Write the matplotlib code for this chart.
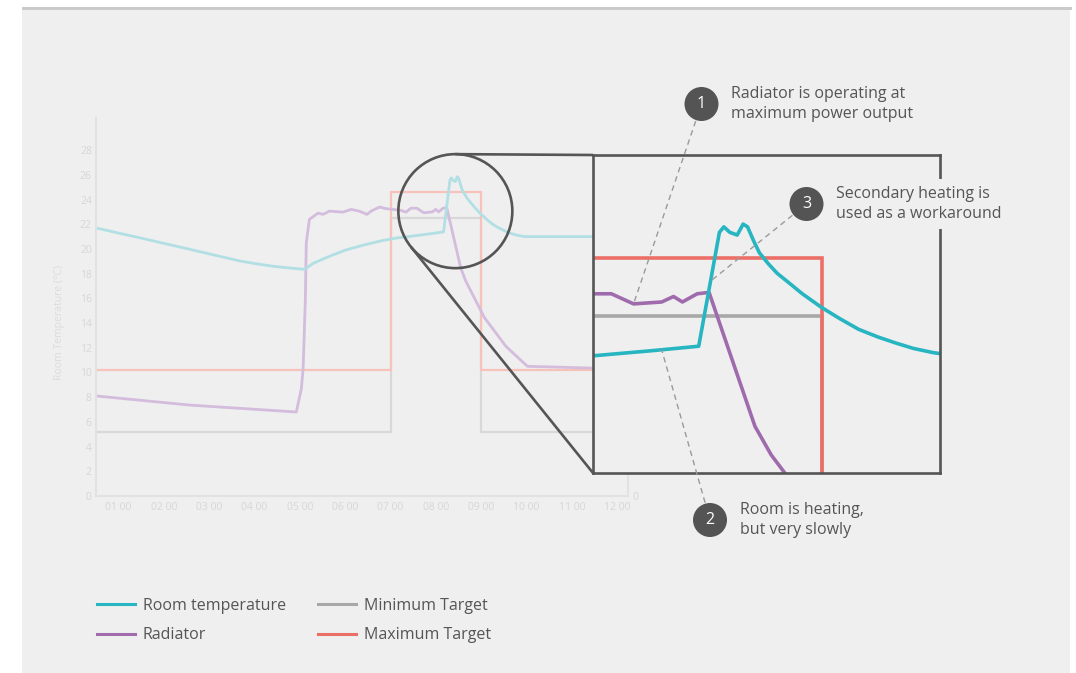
import matplotlib
matplotlib.use("Agg")
import numpy as np
import matplotlib.pyplot as plt
from matplotlib.patches import Circle, Rectangle
from matplotlib.lines import Line2D

plt.rcParams['font.family'] = ['Open Sans', 'DejaVu Sans']

# ---- data -----------------------------------------------------------------
hours_room = [0.5, 1.0, 1.47, 2.0, 2.57, 3.0, 3.67, 4.0, 4.4, 4.7, 5.1, 5.3, 5.65,
              6.0, 6.39, 6.75, 7.12, 7.5, 7.86, 8.17,
              8.31, 8.34, 8.38, 8.43, 8.47, 8.50, 8.54, 8.58, 8.64, 8.70, 8.78,
              8.87, 9.0, 9.12, 9.25, 9.38, 9.5, 9.62, 9.75, 9.86, 9.97, 12.0]
room_temp = [21.7, 21.28, 20.9, 20.45, 19.97, 19.6, 19.03, 18.82, 18.6, 18.48, 18.35,
             18.85, 19.4, 19.9, 20.3, 20.62, 20.88, 21.05, 21.22, 21.38,
             25.55, 25.75, 25.55, 25.45, 25.85, 25.75, 25.25, 24.8, 24.4, 24.05, 23.7,
             23.3, 22.8, 22.4, 22.0, 21.72, 21.5, 21.3, 21.15, 21.06, 21.0, 21.0]

hours_radiator = [0.5, 2.57, 4.92, 5.03, 5.07, 5.12, 5.14, 5.21, 5.40, 5.51, 5.65,
                  5.95, 6.13, 6.31, 6.48, 6.57, 6.68, 6.76, 6.90, 7.05, 7.20, 7.34,
                  7.45, 7.58, 7.73, 7.92, 8.00, 8.06, 8.16, 8.24, 8.55, 8.66, 9.07,
                  9.55, 10.02, 12.0]
radiator_temp = [8.1, 7.36, 6.8, 8.65, 10.27, 15.9, 20.5, 22.4, 22.9, 22.8, 23.06,
                 22.98, 23.2, 23.06, 22.8, 23.06, 23.26, 23.39, 23.26, 23.2, 23.15, 22.98,
                 23.3, 23.3, 22.93, 23.0, 23.2, 23.0, 23.3, 23.35, 18.45, 17.4, 14.45,
                 12.1, 10.5, 10.3]

target_hours = [0.5, 7.0, 9.0, 12.0]
min_target = [5.2, 22.5, 5.2, 5.2]
max_target = [10.2, 24.6, 10.2, 10.2]

tick_hours = list(range(1, 13))
tick_labels = ["01 00", "02 00", "03 00", "04 00", "05 00", "06 00",
               "07 00", "08 00", "09 00", "10 00", "11 00", "12 00"]
y_ticks = list(range(0, 29, 2))

series_labels = ["Room temperature", "Radiator", "Minimum Target", "Maximum Target"]
notes = ["Radiator is operating at\nmaximum power output",
         "Room is heating,\nbut very slowly",
         "Secondary heating is\nused as a workaround"]

# ---- styling --------------------------------------------------------------
BG = '#efefef'
DARK = '#555555'
TEXT = '#555555'
FAINT = '#d6d6d6'
strong = {'room': '#27b5c1', 'rad': '#9f6bad', 'min': '#a8a8a8', 'max': '#ec6f67'}
faded = {'room': '#b2dfe4', 'rad': '#d4bcdd', 'min': '#d8d8d8', 'max': '#f6c2b9'}

W, H = 1076, 673
fig = plt.figure(figsize=(W / 100, H / 100), dpi=100)
fig.patch.set_facecolor('white')


def box(l, t, r, b):
    return [l / W, 1 - b / H, (r - l) / W, (b - t) / H]


# panel background and its top rule
fig.patches.append(Rectangle((22 / W, 0), (1070 - 22) / W, (H - 8) / H,
                             transform=fig.transFigure, facecolor=BG,
                             edgecolor='none', zorder=-10))
fig.patches.append(Rectangle((22 / W, 1 - 9.5 / H), (1072 - 22) / W, 2.5 / H,
                             transform=fig.transFigure, facecolor='#cacaca',
                             edgecolor='none', zorder=-10))


def draw_series(a, col, lw_line, lw_target):
    a.plot(target_hours, min_target, drawstyle='steps-post', color=col['min'],
           lw=lw_target, solid_joinstyle='miter')
    a.plot(target_hours, max_target, drawstyle='steps-post', color=col['max'],
           lw=lw_target, solid_joinstyle='miter')
    a.plot(hours_radiator, radiator_temp, color=col['rad'], lw=lw_line,
           solid_joinstyle='round')
    a.plot(hours_room, room_temp, color=col['room'], lw=lw_line,
           solid_joinstyle='round')


# ---- main (faded) chart ---------------------------------------------------
ax = fig.add_axes(box(96, 118, 628, 496))
ax.set_facecolor('none')
ax.set_xlim(0.5, 12.24)
ax.set_ylim(0, 30.6)
draw_series(ax, faded, 2.0, 1.6)
ax.spines['top'].set_visible(False)
for s in ['left', 'bottom', 'right']:
    ax.spines[s].set_color('#e2e2e2')
    ax.spines[s].set_linewidth(1.5)
ax.spines['right'].set_bounds(0, 1.7)
ax.set_xticks(tick_hours)
ax.set_xticklabels(tick_labels)
ax.set_yticks(y_ticks)
ax.tick_params(length=0, labelsize=7.5, labelcolor=FAINT, pad=4)
ax.tick_params(axis='y', pad=3)
ax.set_ylabel("Room Temperature (°C)", fontsize=7.5, color='#dcdcdc')
ax.yaxis.set_label_coords(-0.058, 0.46)

ax_r = ax.twinx()
ax_r.set_ylim(ax.get_ylim())
ax_r.set_yticks([0])
ax_r.tick_params(length=0, labelsize=7.5, labelcolor=FAINT, pad=3)
for s in ax_r.spines.values():
    s.set_visible(False)

# ---- magnified inset ------------------------------------------------------
axin = fig.add_axes(box(593, 155, 940, 473))
axin.set_zorder(3)
axin.set_facecolor(BG)
axin.set_xlim(7.456, 9.80)
axin.set_ylim(16.74, 28.38)
draw_series(axin, strong, 2.6, 2.6)
axin.set_xticks([])
axin.set_yticks([])
for s in axin.spines.values():
    s.set_color(DARK)
    s.set_linewidth(1.9)

# ---- overlay for the magnifier and the call-outs ---------------------------
ov = fig.add_axes([0, 0, 1, 1])
ov.set_zorder(5)
ov.set_xlim(0, W)
ov.set_ylim(H, 0)
ov.axis('off')


def to_px(a, pt):
    return ov.transData.inverted().transform(a.transData.transform(pt))


# magnifying lens over the morning peak
cx, cy = to_px(ax, (8.43, 23.06))
r = 57.0
ov.add_patch(Circle((cx, cy), r, facecolor='none', edgecolor=DARK, lw=1.9))
tl = ov.transData.inverted().transform(axin.transAxes.transform((0, 1)))
bl = ov.transData.inverted().transform(axin.transAxes.transform((0, 0)))
ov.plot([cx, tl[0]], [cy - r, tl[1]], color=DARK, lw=1.9, solid_capstyle='butt')
# tangent from the inset's lower-left corner to the lens
dx, dy = bl[0] - cx, bl[1] - cy
d = np.hypot(dx, dy)
ang = np.arctan2(dy, dx) + np.arccos(r / d)
tx, ty = cx + r * np.cos(ang), cy + r * np.sin(ang)
ov.plot([tx, bl[0]], [ty, bl[1]], color=DARK, lw=1.9, solid_capstyle='butt')

# numbered call-outs
badge_r = 17
badges = [(701.5, 104.0), (710.0, 520.0), (806.5, 204.0)]
text_x = [731, 740, 836]
targets = [to_px(axin, (7.73, 22.93)),
           to_px(axin, (7.92, float(np.interp(7.92, hours_room, room_temp)))),
           to_px(axin, (8.25, float(np.interp(8.25, hours_room, room_temp))))]

for i, ((bx, by), (px, py)) in enumerate(zip(badges, targets)):
    vx, vy = px - bx, py - by
    n = np.hypot(vx, vy)
    sx, sy = bx + vx / n * (badge_r + 1), by + vy / n * (badge_r + 1)
    ov.plot([sx, px], [sy, py], color='#9a9a9a', lw=1.0, dashes=(4, 3))
    ov.add_patch(Circle((bx, by), badge_r, facecolor='#545454', edgecolor='none'))
    ov.text(bx, by, str(i + 1), color='white', fontsize=11.5,
            ha='center', va='center')
    ov.text(text_x[i], by, notes[i], color=TEXT, fontsize=11.5, ha='left',
            va='center', linespacing=1.25,
            bbox=dict(boxstyle='square,pad=0.45', facecolor=BG, edgecolor='none'))

# ---- legend ---------------------------------------------------------------
handles = [Line2D([], [], color=strong[k], lw=2.2) for k in ['room', 'rad', 'min', 'max']]
fig.legend(handles, series_labels, ncol=2, loc='upper left',
           bbox_to_anchor=(97 / W, 1 - 598 / H), frameon=False, fontsize=11.5,
           labelcolor=TEXT, handlelength=2.35, handletextpad=0.5,
           columnspacing=2.05, labelspacing=0.82, borderpad=0, borderaxespad=0)

fig.savefig('out.png', dpi=100, facecolor='white')
